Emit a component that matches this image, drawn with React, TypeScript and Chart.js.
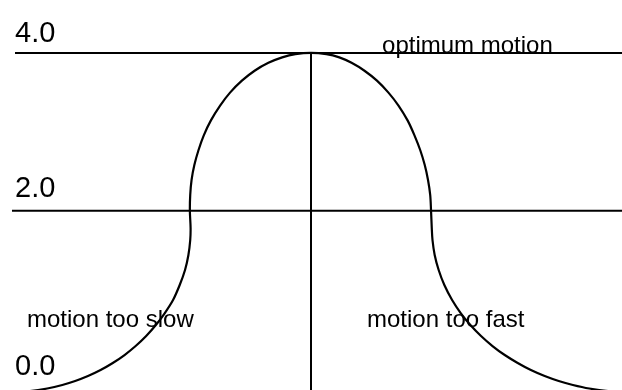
import React, { useEffect, useRef } from "react";
import { Chart, registerables } from "chart.js";

Chart.register(...registerables);

// Curve (x: relative speed units, y: value)
const curveX = [
  -2.488, -2.322, -2.18, -2.055, -1.949, -1.843, -1.739, -1.638, -1.541, -1.449,
  -1.362, -1.282, -1.208, -1.14, -1.085, -1.041, -1.013, -0.998, -0.995,
  -1.001, -0.998, -0.987, -0.964, -0.93, -0.886, -0.827, -0.751, -0.669, -0.571,
  -0.466, -0.352, -0.238, -0.129, 0.0,
  0.127, 0.234, 0.335, 0.442, 0.545, 0.64, 0.723, 0.798, 0.855, 0.903, 0.94,
  0.967, 0.985, 0.992,
  0.998, 1.004, 1.022, 1.055, 1.102, 1.166, 1.237, 1.317, 1.405, 1.5, 1.601,
  1.708, 1.817, 1.931, 2.047, 2.164, 2.3, 2.455, 2.636,
];
const curveY = [
  -0.295, -0.283, -0.251, -0.206, -0.156, -0.093, -0.017, 0.072, 0.173, 0.287,
  0.414, 0.553, 0.705, 0.87, 1.06, 1.25, 1.44, 1.63, 1.782,
  2.0, 2.201, 2.39, 2.579, 2.767, 2.956, 3.145, 3.333, 3.497, 3.648,
  3.774, 3.874, 3.943, 3.984, 4.0,
  3.984, 3.943, 3.874, 3.774, 3.648, 3.497, 3.333, 3.145, 2.956, 2.767, 2.579,
  2.39, 2.201, 2.0,
  1.782, 1.63, 1.44, 1.25, 1.06, 0.87, 0.705, 0.553, 0.414, 0.287, 0.173,
  0.072, -0.017, -0.093, -0.156, -0.206, -0.251, -0.283, -0.295,
];

// Reference lines
const levelValues = [4.0, 2.0];
const levelStartX = [-2.446, -2.471];
const levelEndX = 2.57;
const dividerX = 0.0;
const dividerTopY = 4.0;
const dividerBottomY = -0.3;

// Axis value labels
const valueLabels = ["4.0", "2.0", "0.0"];
const valueLabelX = [-2.446, -2.446, -2.446];
const valueLabelY = [4.134, 2.179, -0.08];

// Region notes
const noteTexts = ["optimum motion", "motion too slow", "motion too fast"];
const noteX = [0.587, -2.347, 0.463];
const noteY = [4.0, 0.528, 0.528];

const X_MIN = -2.57;
const X_MAX = 2.57;
const Y_MIN = -0.27;
const Y_MAX = 4.67;

const FONT = '"Liberation Sans", Arial, Helvetica, sans-serif';

const textPlugin = {
  id: "textLabels",
  afterDatasetsDraw(chart: any) {
    const { ctx, scales } = chart;
    const xs = scales.x;
    const ys = scales.y;
    ctx.save();
    ctx.fillStyle = "#000";
    ctx.textAlign = "left";
    ctx.textBaseline = "alphabetic";
    ctx.font = `29px ${FONT}`;
    valueLabels.forEach((t, i) => {
      ctx.fillText(t, xs.getPixelForValue(valueLabelX[i]), ys.getPixelForValue(valueLabelY[i]));
    });
    ctx.font = `24px ${FONT}`;
    noteTexts.forEach((t, i) => {
      ctx.fillText(t, xs.getPixelForValue(noteX[i]), ys.getPixelForValue(noteY[i]));
    });
    ctx.restore();
  },
};

export default function App() {
  const canvasRef = useRef<HTMLCanvasElement | null>(null);

  useEffect(() => {
    if (!canvasRef.current) return;
    const lineStyle = {
      showLine: true,
      pointRadius: 0,
      borderColor: "#000",
      backgroundColor: "#000",
      borderWidth: 2,
      fill: false,
    };
    const datasets: any[] = [];
    levelValues.forEach((v, i) => {
      datasets.push({
        ...lineStyle,
        data: [
          { x: levelStartX[i], y: v },
          { x: levelEndX, y: v },
        ],
        tension: 0,
      });
    });
    datasets.push({
      ...lineStyle,
      data: [
        { x: dividerX, y: dividerTopY },
        { x: dividerX, y: dividerBottomY },
      ],
      tension: 0,
    });
    datasets.push({
      ...lineStyle,
      borderWidth: 2.2,
      data: curveX.map((x, i) => ({ x, y: curveY[i] })),
      tension: 0.33,
    });

    const chart = new Chart(canvasRef.current, {
      type: "scatter",
      data: { datasets },
      options: {
        animation: false,
        responsive: true,
        maintainAspectRatio: false,
        layout: { padding: 0 },
        events: [],
        plugins: {
          legend: { display: false },
          tooltip: { enabled: false },
        },
        scales: {
          x: { type: "linear", display: false, min: X_MIN, max: X_MAX },
          y: { type: "linear", display: false, min: Y_MIN, max: Y_MAX },
        },
      },
      plugins: [textPlugin],
    } as any);
    return () => chart.destroy();
  }, []);

  return (
    <div
      style={{
        position: "absolute",
        left: 0,
        top: 0,
        width: 622,
        height: 390,
        background: "#fff",
      }}
    >
      <canvas ref={canvasRef} />
    </div>
  );
}
